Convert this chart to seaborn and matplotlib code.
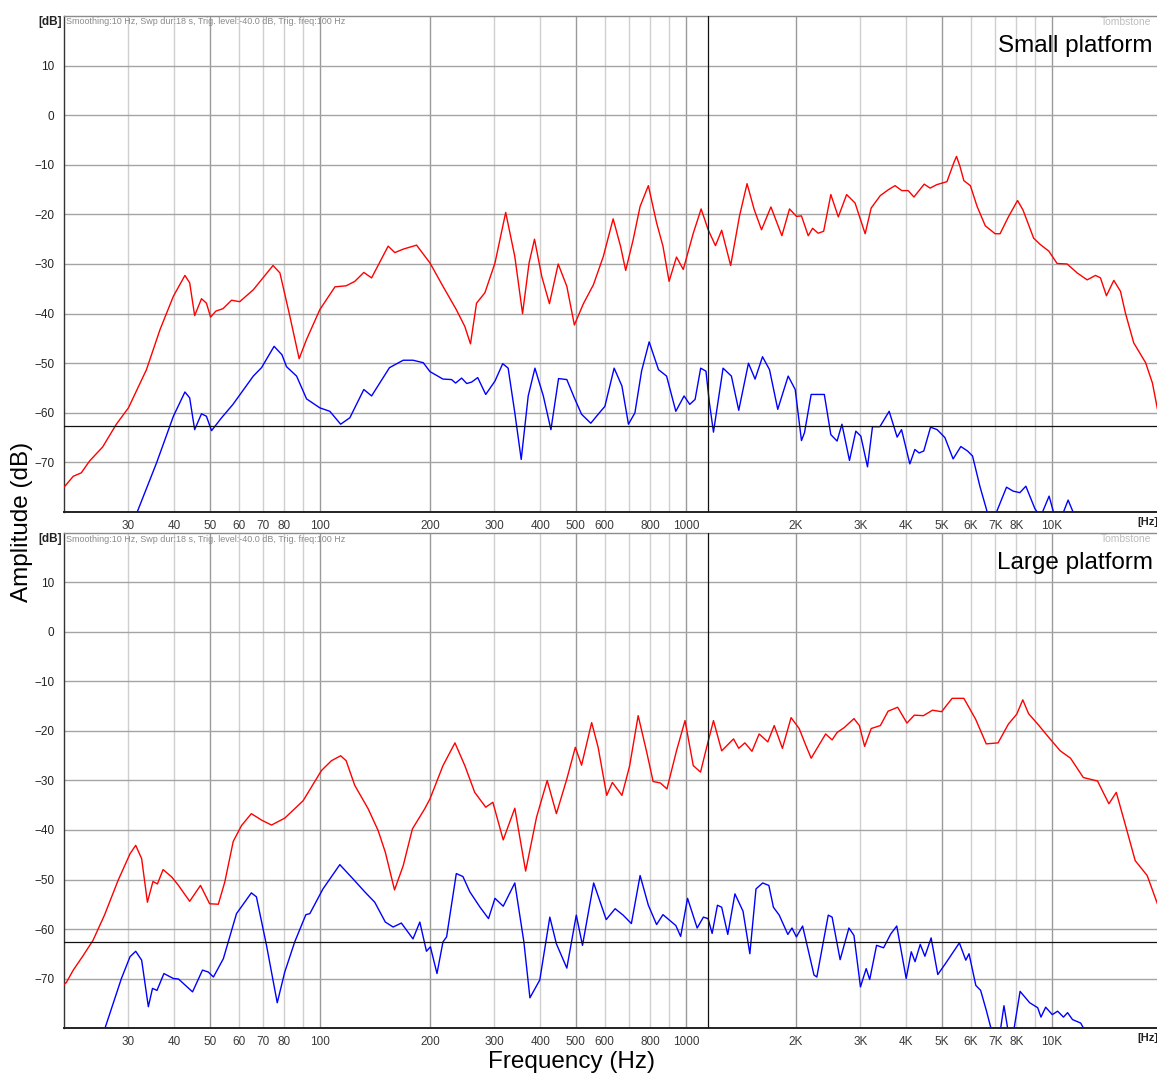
import numpy as np
import pandas as pd
import matplotlib
matplotlib.use("Agg")
import matplotlib.pyplot as plt
import seaborn as sns
from matplotlib.ticker import FixedLocator, FixedFormatter

# ---------------- data ----------------
small_red_f = [20, 21.2, 22.3, 23.5, 25.5, 27.8, 30, 33.6, 36.6, 39.8, 42.8, 44.1, 45.5, 47.5, 49,
               50.3, 52, 54.4, 57.4, 60.4, 65.8, 74.5, 77.8, 82.8, 87.8, 92, 100, 110, 118, 124.6,
               131.9, 138.5, 153.7, 160.3, 169, 183.8, 200, 217, 236, 249, 258, 268, 282.5, 301,
               322, 341, 358, 373, 386, 404, 424, 448, 473, 496, 525, 559, 595, 633, 663, 685,
               718, 750, 790, 832, 866, 900, 943, 984, 1048, 1101, 1151, 1205, 1253, 1326, 1401,
               1470, 1537, 1610, 1708, 1830, 1920, 2006, 2070, 2160, 2220, 2300, 2380, 2490, 2610,
               2750, 2900, 3090, 3210, 3400, 3580, 3730, 3890, 4050, 4200, 4480, 4650, 4850, 5170,
               5390, 5490, 5610, 5750, 5990, 6250, 6580, 7000, 7220, 7610, 8060, 8340, 8920, 9310,
               9810, 10340, 11010, 11730, 12490, 13160, 13580, 14100, 14770, 15400, 15890, 16740,
               18040, 18830, 19430, 20000]
small_red_db = [-75, -72.8, -72.1, -69.7, -66.9, -62.3, -59, -51.3, -43.2, -36.5, -32.3, -33.8, -40.4,
                -37, -37.9, -40.7, -39.5, -39, -37.3, -37.6, -35.2, -30.3, -31.8, -40.5, -49.1, -45.2,
                -39.2, -34.6, -34.4, -33.5, -31.7, -32.8, -26.4, -27.7, -27, -26.2, -29.8, -34.5,
                -39.2, -42.6, -46.1, -37.9, -35.8, -29.8, -19.6, -28.5, -40, -29.8, -25, -32.5, -38,
                -30, -34.5, -42.3, -38, -34.2, -28.5, -20.9, -26.4, -31.3, -25.1, -18.4, -14.2,
                -21.7, -26.4, -33.5, -28.6, -31.1, -23.8, -18.9, -23.1, -26.3, -23.2, -30.3, -20.4,
                -13.8, -19, -23.1, -18.5, -24.3, -18.9, -20.4, -20.3, -24.3, -22.8, -23.8, -23.4,
                -16, -20.5, -16, -17.7, -23.9, -18.7, -16.2, -15, -14.2, -15.2, -15.2, -16.5, -13.9,
                -14.7, -14, -13.4, -9.7, -8.3, -10.3, -13.2, -14.2, -18.4, -22.3, -23.9, -23.9,
                -20.5, -17.2, -19.1, -24.8, -26.1, -27.4, -29.9, -30, -31.8, -33.2, -32.3, -32.8,
                -36.4, -33.3, -35.5, -39.9, -45.9, -49.9, -54, -59.2, -61.5]

small_blue_f = [30.8, 31.7, 35.8, 39.8, 42.8, 44.1, 45.5, 47.5, 49, 50.6, 53.9, 57.9, 65.8, 69.3, 75,
                78.8, 81.1, 86.4, 92, 100, 106.5, 114, 120.8, 131.9, 138.5, 155, 169, 179.7, 191.7,
                200, 217, 229, 235, 244, 252, 260, 270, 284, 301, 316, 327, 341, 355, 371, 387, 408,
                428, 449, 473, 496, 519, 550, 576, 601, 637, 669, 697, 726, 757, 794, 842, 886, 939,
                989, 1025, 1060, 1098, 1135, 1160, 1190, 1264, 1332, 1395, 1483, 1546, 1620, 1693,
                1783, 1904, 1990, 2070, 2110, 2200, 2390, 2490, 2590, 2670, 2800, 2914, 3007, 3136,
                3236, 3390, 3594, 3779, 3885, 4093, 4225, 4340, 4468, 4663, 4861, 5104, 5374, 5641,
                5885, 6072, 6359, 6631, 6750, 6950, 7062, 7520, 7843, 8177, 8492, 8986, 9310, 9830,
                10190, 10630, 11080, 11430, 11800]
small_blue_db = [-84, -80, -70.1, -60.7, -55.8, -57, -63.4, -60.2, -60.7, -63.6, -61, -58.3, -52.6,
                 -50.9, -46.6, -48.3, -50.7, -52.6, -57.2, -59, -59.7, -62.3, -61, -55.3, -56.6,
                 -50.9, -49.4, -49.4, -49.9, -51.7, -53.2, -53.3, -54, -53, -54.1, -53.8, -52.9,
                 -56.3, -53.6, -50.1, -51, -60, -69.4, -56.6, -51, -56.6, -63.4, -53.1, -53.3, -57,
                 -60.3, -62.1, -60.3, -58.7, -51, -54.6, -62.3, -60, -51.6, -45.7, -51.3, -52.6,
                 -59.7, -56.6, -58.3, -57.3, -51, -51.6, -58, -63.9, -51, -52.6, -59.5, -50, -53.2,
                 -48.7, -51.3, -59.3, -52.6, -55.3, -65.6, -64, -56.3, -56.3, -64.4, -65.7, -62.3,
                 -69.6, -63.7, -64.7, -70.9, -62.8, -62.8, -59.7, -64.9, -63.4, -70.3, -67.4, -68.1,
                 -67.7, -62.9, -63.4, -65, -69.3, -66.8, -67.7, -68.7, -74.8, -79.5, -82, -82, -80,
                 -75, -75.8, -76.1, -74.8, -79.3, -81, -76.8, -81, -81, -77.6, -80, -84]

large_red_f = [20, 20.3, 21.2, 22.5, 24, 25.8, 28.1, 30.3, 31.4, 32.6, 33.8, 35, 36, 37.3, 39.4, 41.1,
               44.1, 47.2, 50, 52.8, 55, 58, 61.1, 65, 69.3, 73.8, 80.2, 90, 101, 107.6, 114, 118,
               124.6, 135.5, 144.3, 151, 160, 169, 179, 193.5, 200, 217, 234, 249, 265, 284, 297,
               317, 341, 365, 391, 418, 443, 473, 499, 519, 553, 576, 608, 630, 669, 702, 741, 782,
               814, 852, 888, 943, 995, 1048, 1097, 1140, 1190, 1253, 1350, 1395, 1450, 1516, 1586,
               1675, 1744, 1836, 1939, 2040, 2130, 2200, 2300, 2410, 2510, 2590, 2710, 2880, 2980,
               3080, 3210, 3400, 3570, 3790, 4020, 4210, 4460, 4720, 5000, 5340, 5750, 6190, 6620,
               7130, 7610, 8020, 8330, 8640, 9200, 9810, 10540, 11250, 12190, 13330, 14320, 15000,
               15900, 16900, 18220, 19430, 20000]
large_red_db = [-71.2, -70.8, -68.3, -65.5, -62.3, -57.2, -50.2, -44.8, -43.1, -45.8, -54.6, -50.4,
                -50.9, -48, -49.5, -51.2, -54.4, -51.2, -54.9, -55, -50.5, -42.3, -39.1, -36.7, -38,
                -39, -37.6, -34.1, -28, -26, -25, -26, -31, -35.7, -40.1, -44.5, -52.1, -47.2,
                -39.8, -35.7, -33.7, -27, -22.4, -27, -32.4, -35.4, -34.4, -42, -35.6, -48.3,
                -37.4, -30, -36.7, -29.7, -23.3, -26.9, -18.3, -23.3, -33, -30.4, -33, -27.1,
                -16.9, -24.3, -30.2, -30.5, -31.7, -24, -17.9, -27, -28.3, -23.3, -17.9, -24,
                -21.6, -23.5, -22.4, -24.1, -20.6, -22.2, -18.9, -23.5, -17.3, -19.5, -23, -25.5,
                -23.1, -20.6, -21.8, -20.3, -19.3, -17.5, -18.9, -23.1, -19.5, -18.9, -16, -15.2,
                -18.4, -16.8, -16.9, -15.8, -16.1, -13.4, -13.4, -17.6, -22.6, -22.4, -18.6, -16.6,
                -13.7, -16.5, -18.8, -21.3, -24, -25.5, -29.4, -30.1, -34.7, -32.4, -39.1, -46.2,
                -49.2, -54.9, -57]

large_blue_f = [25.2, 26.0, 28.7, 30.3, 31.4, 32.6, 34, 34.9, 35.9, 37.5, 39.8, 41.1, 44.9, 47.8, 49.6,
                51.2, 54.5, 59.2, 65, 67.1, 71.5, 76.5, 80.2, 85.4, 91.6, 93.9, 102, 113.4, 123.3,
                132.7, 141.3, 151, 158.6, 167, 179.7, 187.6, 195.6, 200.5, 209, 217, 222, 236, 246,
                257, 274, 289, 301, 317, 341, 361, 375, 399, 425, 443, 473, 502, 522, 560, 606, 641,
                674, 710, 750, 790, 832, 866, 939, 968, 1011, 1074, 1117, 1150, 1180, 1220, 1253,
                1302, 1362, 1433, 1496, 1555, 1622, 1686, 1735, 1800, 1900, 1950, 2005, 2085, 2180,
                2240, 2280, 2450, 2510, 2640, 2790, 2880, 3000, 3110, 3180, 3320, 3470, 3630, 3770,
                4000, 4130, 4230, 4370, 4500, 4680, 4880, 5120, 5590, 5820, 5940, 6200, 6390, 6620,
                6900, 7200, 7400, 7610, 7850, 8190, 8700, 9150, 9340, 9620, 10030, 10370, 10760,
                11040, 11390, 11990, 12200, 12400]
large_blue_db = [-83, -79.6, -70, -65.6, -64.5, -66.3, -75.7, -72, -72.4, -69, -70, -70.1, -72.7,
                 -68.3, -68.7, -69.7, -66, -56.9, -52.7, -53.5, -63.3, -74.9, -68.7, -62.6, -57.1,
                 -56.9, -51.9, -47, -49.9, -52.5, -54.6, -58.6, -59.6, -58.8, -62, -58.6, -64.5,
                 -63.6, -69, -62.6, -61.6, -48.8, -49.4, -52.5, -55.6, -57.9, -53.8, -55.4, -50.7,
                 -62.6, -73.9, -70.3, -57.6, -63, -67.9, -57.2, -63.3, -50.7, -58.1, -55.9, -57.2,
                 -58.9, -49.2, -55.2, -59.1, -57.1, -59.3, -61.5, -53.8, -59.8, -57.6, -57.9, -60.9,
                 -55.2, -55.6, -61.1, -52.9, -56.4, -65, -51.9, -50.7, -51.2, -55.6, -57.2, -61.1,
                 -59.8, -61.6, -59.4, -65.6, -69.3, -69.7, -57.2, -57.6, -66.2, -59.8, -61.3, -71.7,
                 -68, -70.2, -63.3, -63.8, -61, -59.4, -70, -64.6, -66.6, -63.1, -65.5, -61.8, -69.2,
                 -67, -62.8, -66.3, -65, -71.4, -72.4, -76.4, -81.5, -81.5, -75.5, -81, -81, -72.6,
                 -74.9, -75.9, -77.8, -75.8, -77.3, -76.6, -77.8, -76.9, -78.3, -79, -80, -83]

panel_titles = ["Small platform", "Large platform"]
info_text = "Smoothing:10 Hz, Swp dur:18 s, Trig. level:-40.0 dB, Trig. freq:100 Hz"
y_ticks = [10, 0, -10, -20, -30, -40, -50, -60, -70]
x_major = [50, 100, 200, 500, 1000, 2000, 5000, 10000]
x_major_labels = ["50", "100", "200", "500", "1000", "2K", "5K", "10K"]
x_minor = [30, 40, 60, 70, 80, 90, 300, 400, 600, 700, 800, 900, 3000, 4000, 6000, 7000, 8000, 9000]
x_minor_labels = ["30", "40", "60", "70", "80", "", "300", "400", "600", "", "800", "", "3K", "4K",
                  "6K", "7K", "8K", ""]
cursor_freq = 1150
cursor_db = -62.6

# ---------------- style ----------------
sns.set_style("white")
plt.rcParams["font.family"] = ["Liberation Sans", "DejaVu Sans"]

W, H = 1157, 1077
fig = plt.figure(figsize=(W / 100, H / 100), dpi=100)

panels = [
    (16, 512, small_red_f, small_red_db, small_blue_f, small_blue_db),
    (533, 1028, large_red_f, large_red_db, large_blue_f, large_blue_db),
]

for i, (ytop, ybot, rf, rdb, bf, bdb) in enumerate(panels):
    ax = fig.add_axes([64 / W, 1 - ybot / H, 1098 / W, (ybot - ytop) / H])
    ax.set_xscale("log")
    dfr = pd.DataFrame({"f": rf, "db": rdb})
    dfb = pd.DataFrame({"f": bf, "db": bdb})
    sns.lineplot(data=dfr, x="f", y="db", ax=ax, color="#ff0000", lw=1.0,
                 estimator=None, sort=False, zorder=5)
    sns.lineplot(data=dfb, x="f", y="db", ax=ax, color="#0000ff", lw=1.0,
                 estimator=None, sort=False, zorder=5)
    ax.set_xlim(20, 20000)
    ax.set_ylim(-80, 20)
    ax.set_xlabel("")
    ax.set_ylabel("")

    ax.xaxis.set_major_locator(FixedLocator(x_major))
    ax.xaxis.set_major_formatter(FixedFormatter(x_major_labels))
    ax.xaxis.set_minor_locator(FixedLocator(x_minor))
    ax.xaxis.set_minor_formatter(FixedFormatter(x_minor_labels))
    ax.set_yticks(y_ticks)
    ax.set_yticklabels([str(v).replace("-", "\u2212") for v in y_ticks])

    ax.grid(True, which="major", axis="x", color="#9a9a9a", lw=1.0, zorder=0)
    ax.grid(True, which="minor", axis="x", color="#cfcfcf", lw=1.0, zorder=0)
    ax.grid(True, which="major", axis="y", color="#a4a4a4", lw=1.0, zorder=0)
    ax.set_axisbelow(True)

    ax.tick_params(axis="x", which="both", length=0, pad=6, labelsize=8.5, labelcolor="#3a3a3a")
    ax.tick_params(axis="y", which="major", length=4, width=1, color="#222222", pad=3,
                   labelsize=8.5, labelcolor="#222222", direction="out")

    ax.spines["right"].set_visible(False)
    ax.spines["top"].set_color("#8c8c8c")
    ax.spines["top"].set_linewidth(1.0)
    ax.spines["left"].set_color("#333333")
    ax.spines["left"].set_linewidth(1.0)
    ax.spines["bottom"].set_color("#222222")
    ax.spines["bottom"].set_linewidth(1.4)

    ax.axvline(cursor_freq, color="#111111", lw=0.9, zorder=6)
    ax.axhline(cursor_db, color="#111111", lw=0.9, zorder=6)

    ty = 1 - (ytop + 6) / H
    fig.text(62 / W, ty, "[dB]", ha="right", va="center", fontsize=8.5, fontweight="bold",
             color="#222222")
    fig.text(66 / W, ty, info_text, ha="left", va="center", fontsize=6.5, color="#8a8a8a")
    fig.text(1151 / W, ty, "Tombstone", ha="right", va="center", fontsize=7.5, color="#bdbdbd")
    fig.text(1153 / W, 1 - (ytop + 30) / H, panel_titles[i], ha="right", va="center",
             fontsize=17.5, color="#000000")
    fig.text(1148 / W, 1 - (ybot + 10) / H, "[Hz]", ha="center", va="center", fontsize=8,
             fontweight="bold", color="#222222")

fig.text(22 / W, 1 - 522 / H, "Amplitude (dB)", rotation=90, ha="center", va="center",
         fontsize=17.5, color="#000000")
fig.text(572 / W, 1 - 1062 / H, "Frequency (Hz)", ha="center", va="center",
         fontsize=17.5, color="#000000")

fig.savefig("out.png", dpi=100)
